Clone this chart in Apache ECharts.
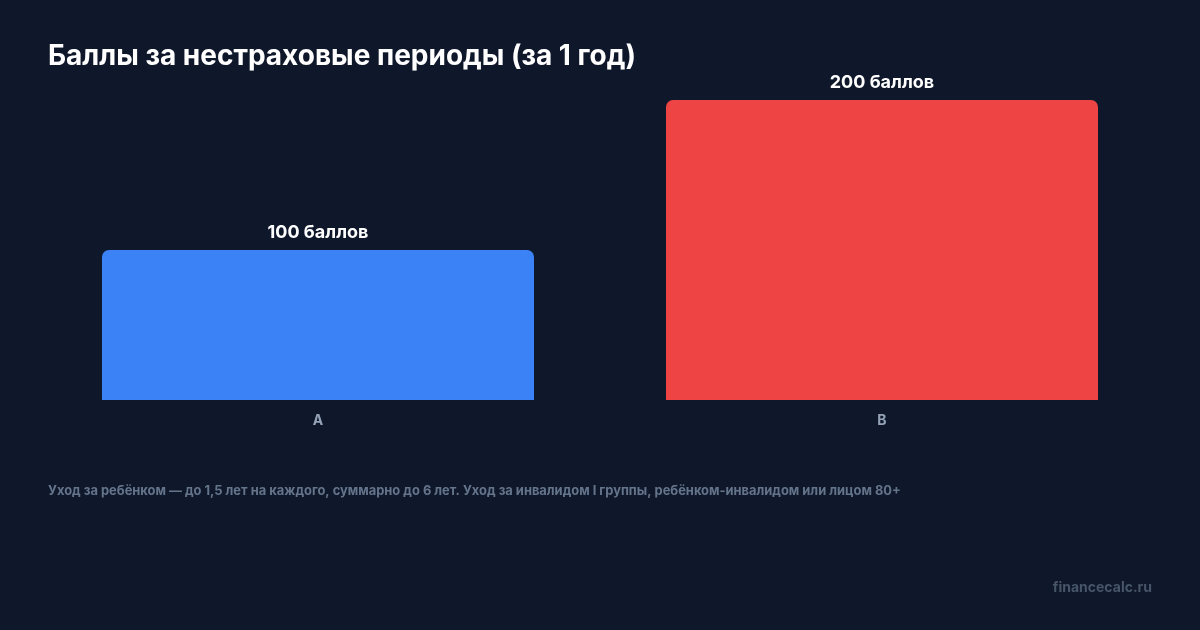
<!DOCTYPE html>
<html>
<head>
<meta charset="utf-8">
<script src="https://cdn.jsdelivr.net/npm/echarts@6/dist/echarts.min.js"></script>
<style>
  html, body { margin: 0; padding: 0; background: #0f172a; }
  #chart { width: 1200px; height: 630px; }
</style>
</head>
<body>
<div id="chart"></div>
<script>
// данные
const categories = ['A', 'B'];
const points = [100, 200];
const barColors = ['#3b82f6', '#ef4444'];
const labelSuffix = ' баллов';

const chart = echarts.init(document.getElementById('chart'));
chart.setOption({
  backgroundColor: '#0f172a',
  textStyle: { fontFamily: 'Inter' },
  title: [
    {
      text: 'Баллы за нестраховые периоды (за 1 год)',
      left: 48,
      top: 43,
      padding: 0,
      textStyle: { color: '#ffffff', fontSize: 28, fontWeight: 'bold', fontFamily: 'Inter' }
    },
    {
      text: 'Уход за ребёнком — до 1,5 лет на каждого, суммарно до 6 лет. Уход за инвалидом I группы, ребёнком-инвалидом или лицом 80+',
      left: 48,
      top: 485,
      padding: 0,
      textStyle: { color: '#64748b', fontSize: 12.9, fontWeight: 'bold', fontFamily: 'Inter' }
    },
    {
      text: 'financecalc.ru',
      right: 48,
      top: 581,
      padding: 0,
      textStyle: { color: '#475569', fontSize: 14, fontWeight: 'bold', fontFamily: 'Inter' }
    }
  ],
  grid: { left: 36, right: 36, top: 100, bottom: 230 },
  xAxis: {
    type: 'category',
    data: categories,
    axisLine: { show: false },
    axisTick: { show: false },
    axisLabel: { color: '#94a3b8', fontSize: 14, fontWeight: 'bold', margin: 14 }
  },
  yAxis: {
    type: 'value',
    min: 0,
    max: 200,
    show: false,
    splitLine: { show: false }
  },
  series: [
    {
      type: 'bar',
      barWidth: '76.6%',
      data: points.map((v, i) => ({ value: v, itemStyle: { color: barColors[i] } })),
      itemStyle: { borderRadius: [7, 7, 0, 0] },
      label: {
        show: true,
        position: 'top',
        distance: 8,
        color: '#ffffff',
        fontSize: 18,
        fontWeight: 'bold',
        formatter: p => p.value + labelSuffix
      }
    }
  ]
});
</script>
</body>
</html>
